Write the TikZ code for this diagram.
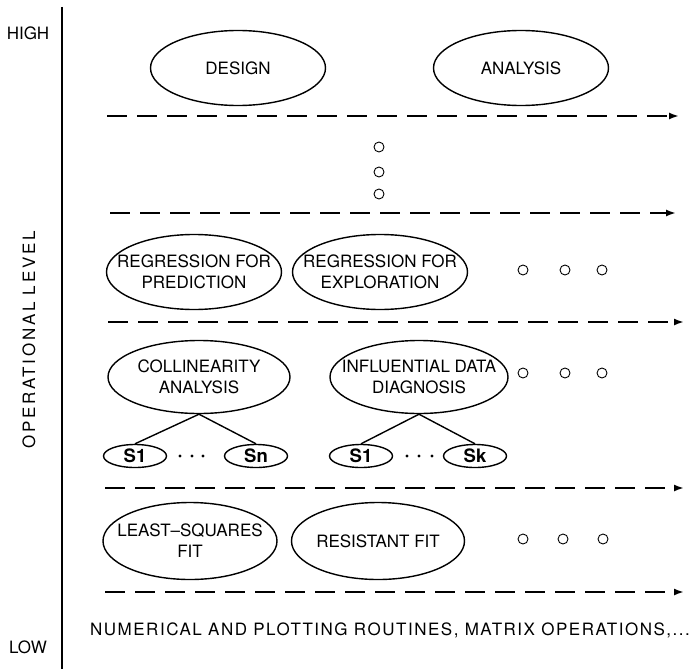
\documentclass[tikz,border=0pt]{standalone}
\usepackage{fontspec}
\setmainfont{TeX Gyre Heros}
\usetikzlibrary{shapes.geometric,arrows.meta}
\begin{document}
\begin{tikzpicture}[x=1pt,y=-1pt,
  txt/.style={font=\fontsize{17}{21}\selectfont, inner sep=0},
  oval/.style={draw, ellipse, line width=1.4pt, inner xsep=-80pt, inner ysep=-40pt,
               align=center, font=\fontsize{17}{21}\selectfont},
  big/.style={oval, minimum width=175pt, minimum height=75pt},
  small/.style={draw, ellipse, line width=1.4pt, inner xsep=-30pt, inner ysep=-15pt,
               minimum width=63pt, minimum height=23pt,
               font=\fontsize{18.5}{18.5}\bfseries\selectfont},
  ring/.style={draw, circle, line width=0.9pt, minimum size=10pt, inner sep=0},
  level/.style={line width=1.8pt, dash pattern=on 20pt off 10pt,
               -{Latex[length=10pt,width=7pt]}},
  link/.style={line width=1.4pt},
  axis/.style={line width=1.5pt}]
\useasboundingbox[fill=white] (0,0) rectangle (692,669);

% axis and labels
\coordinate (axtop) at (62,7);
\coordinate (axbot) at (62,669);
\draw[axis] (axtop) -- (axbot);
\node[txt] (high) at (28,33) {HIGH};
\node[txt] (low) at (28,647) {LOW};
\node[txt, rotate=90] (oplevel) at (29,340)
  {\addfontfeature{LetterSpace=16}OPERATIONAL LEVEL};

% top level
\node[big] (design) at (238,68) {DESIGN};
\node[big] (analysis) at (521,68) {ANALYSIS};

\coordinate (l1a) at (107,116); \coordinate (l1b) at (679,116);
\draw[level] (l1a) -- (l1b);

\node[ring] (v1) at (379,147) {};
\node[ring] (v2) at (379,172) {};
\node[ring] (v3) at (379,194) {};

\coordinate (l2a) at (110,213); \coordinate (l2b) at (676,213);
\draw[level] (l2a) -- (l2b);

% regression level
\node[big] (rfp) at (194,272) {REGRESSION FOR\\PREDICTION};
\node[big] (rfe) at (380,272) {REGRESSION FOR\\EXPLORATION};
\node[ring] (a1) at (523,270) {};
\node[ring] (a2) at (565,270) {};
\node[ring] (a3) at (602,270) {};

\coordinate (l3a) at (108,322); \coordinate (l3b) at (684,322);
\draw[level] (l3a) -- (l3b);

% diagnostics level
\node[oval, minimum width=182pt, minimum height=73pt] (coll) at (199,377)
  {COLLINEARITY\\ANALYSIS};
\node[oval, minimum width=178pt, minimum height=73pt] (infl) at (419,377)
  {INFLUENTIAL DATA\\DIAGNOSIS};
\node[ring] (b1) at (523,373) {};
\node[ring] (b2) at (565,373) {};
\node[ring] (b3) at (602,373) {};

\node[small] (s1a) at (135,456) {S1};
\node[small] (sn) at (256,456) {Sn};
\node[small] (s1b) at (361,456) {S1};
\node[small] (sk) at (475,456) {Sk};
\draw[link] (coll.south) -- (s1a.north);
\draw[link] (coll.south) -- (sn.north);
\draw[link] (infl.south) -- (s1b.north);
\draw[link] (infl.south) -- (sk.north);
\fill (180,456) circle (1.7) (192,456) circle (1.7) (203,456) circle (1.7);
\fill (407,456) circle (1.7) (419,456) circle (1.7) (432,456) circle (1.7);

\coordinate (l4a) at (105,488); \coordinate (l4b) at (684,488);
\draw[level] (l4a) -- (l4b);

% fitting level
\node[oval, minimum width=174pt, minimum height=77pt] (lsf) at (190,541)
  {LEAST--SQUARES\\FIT};
\node[oval, minimum width=173pt, minimum height=77pt] (rf) at (378,541)
  {RESISTANT FIT};
\node[ring] (c1) at (523,539) {};
\node[ring] (c2) at (563,539) {};
\node[ring] (c3) at (603,539) {};

\coordinate (l5a) at (105,592); \coordinate (l5b) at (684,592);
\draw[level] (l5a) -- (l5b);

\node[txt] (routines) at (390,630)
  {\addfontfeature{LetterSpace=9}NUMERICAL AND PLOTTING ROUTINES, MATRIX OPERATIONS,...};
\end{tikzpicture}
\end{document}
